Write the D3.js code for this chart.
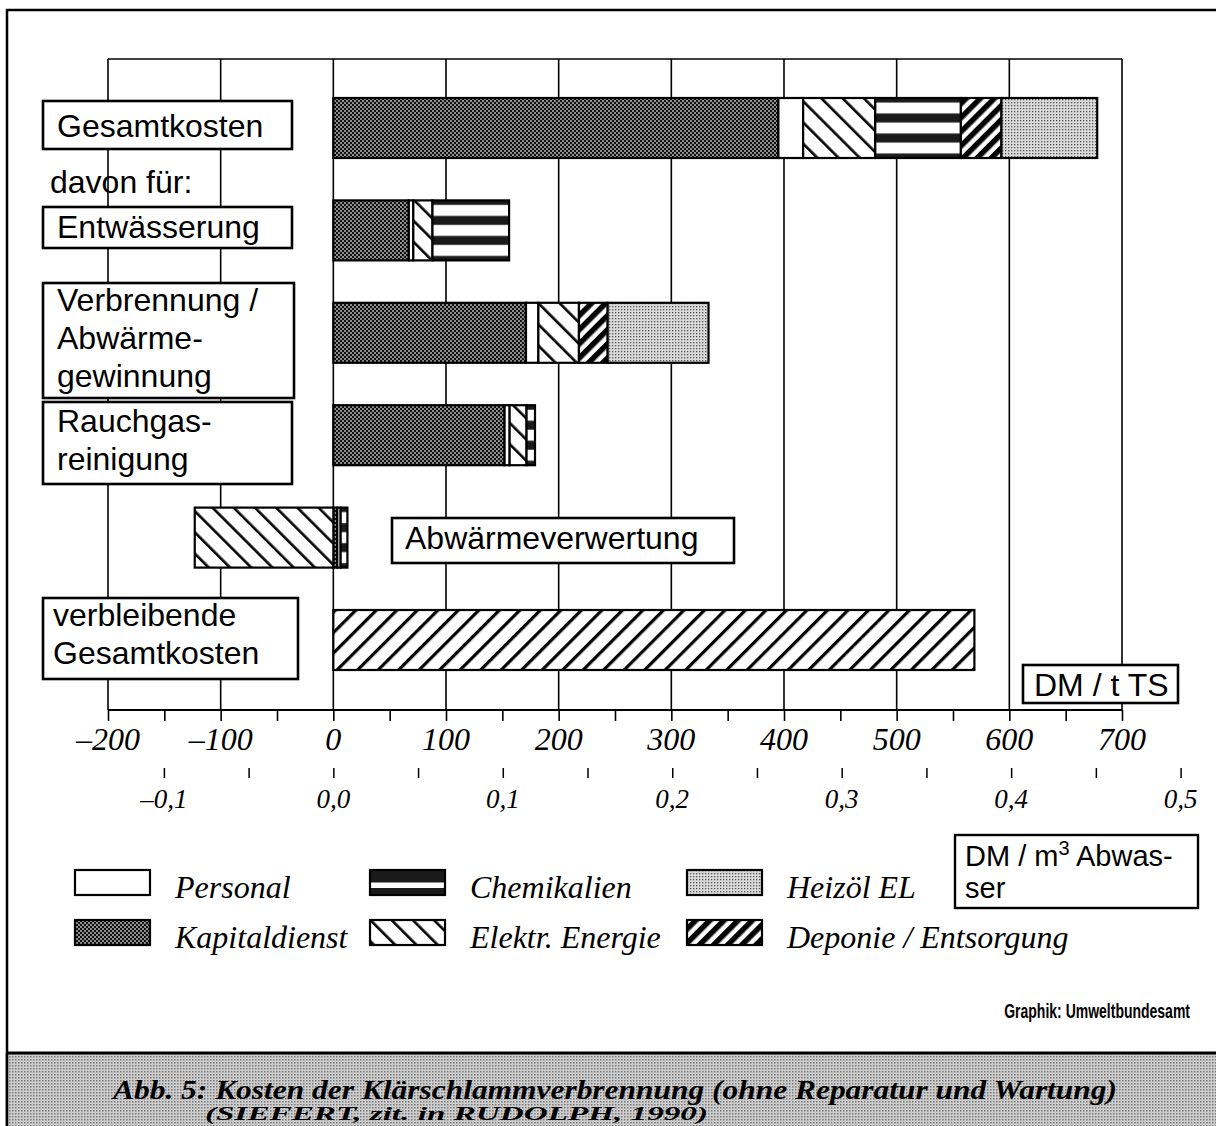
<!DOCTYPE html>
<html><head><meta charset="utf-8">
<script src="https://cdn.jsdelivr.net/npm/d3@7"></script>
<style>body{margin:0;background:#fff} svg{display:block}</style>
</head><body>
<svg id="c" width="1216" height="1126"></svg>
<script>
// ---------- data ----------
const categories = ["Gesamtkosten", "Entwässerung", "Verbrennung / Abwärmegewinnung", "Rauchgasreinigung", "Abwärmeverwertung", "verbleibende Gesamtkosten"];
const seriesKeys = ["Kapitaldienst", "Personal", "Elektr. Energie", "Chemikalien", "Deponie / Entsorgung", "Heizöl EL", "verbleibend"];
const kapitaldienst = [395, 67, 171, 152, 3.5, 0];
const personal      = [22, 4, 11, 4.5, 3, 0];
const elektrEnergie = [64, 17, 36, 15, -123, 0];
const chemikalien   = [76, 68, 0, 7.5, 6, 0];
const deponie       = [36, 0, 25.5, 0, 0, 0];
const heizoel       = [85, 0, 89.5, 0, 0, 0];
const verbleibend   = [0, 0, 0, 0, 0, 569];
const ticksDM = [-200, -100, 0, 100, 200, 300, 400, 500, 600, 700];
const tickLabelsDM = ["–200", "–100", "0", "100", "200", "300", "400", "500", "600", "700"];
const minorTicksDM = [-200, -150, -100, -50, 0, 50, 100, 150, 200, 250, 300, 350, 400, 450, 500, 550, 600, 650, 700];
const ticksM3 = [-0.1, 0, 0.1, 0.2, 0.3, 0.4, 0.5];
const tickLabelsM3 = ["–0,1", "0,0", "0,1", "0,2", "0,3", "0,4", "0,5"];
const minorTicksM3 = [-0.1, -0.05, 0, 0.05, 0.1, 0.15, 0.2, 0.25, 0.3, 0.35, 0.4, 0.45, 0.5];
const dmPerM3 = 1504; // DM/t TS corresponding to 1 DM/m3
const legendRow1 = ["Personal", "Chemikalien", "Heizöl EL"];
const legendRow2 = ["Kapitaldienst", "Elektr. Energie", "Deponie / Entsorgung"];

const columns = [kapitaldienst, personal, elektrEnergie, chemikalien, deponie, heizoel, verbleibend];
const rows = categories.map((c, i) => {
  const r = {cat: c};
  seriesKeys.forEach((k, j) => r[k] = columns[j][i]);
  return r;
});

// ---------- layout ----------
const svg = d3.select("#c");
const W = 1216, H = 1126;
const plotTop = 59, axisY = 710;
const x = d3.scaleLinear().domain([-200, 700]).range([108, 1122]);
const x2 = d3.scaleLinear().domain([-0.1, 0.5]).range([x(-0.1 * dmPerM3), x(0.5 * dmPerM3)]);
const y = d3.scaleBand().domain(categories).range([76.8, 691.2]).paddingInner(0.414).paddingOuter(0.207);

const SANS = "'Liberation Sans', Arial, Helvetica, sans-serif";
const SERIF = "'Liberation Serif', 'Times New Roman', Times, serif";

// ---------- patterns ----------
const defs = svg.append("defs");
function pat(id, w, h, attrs) {
  const p = defs.append("pattern").attr("id", id).attr("patternUnits", "userSpaceOnUse").attr("width", w).attr("height", h);
  if (attrs) Object.entries(attrs).forEach(([k, v]) => p.attr(k, v));
  return p;
}
let p = pat("pKap", 4, 4);
p.append("rect").attr("width", 4).attr("height", 4).attr("fill", "#8e8e8e");
p.append("rect").attr("width", 2).attr("height", 2).attr("fill", "#111");
p.append("rect").attr("x", 2).attr("y", 2).attr("width", 2).attr("height", 2).attr("fill", "#111");
p = pat("pHeiz", 3, 3);
p.append("rect").attr("width", 3).attr("height", 3).attr("fill", "#dadada");
p.append("rect").attr("width", 1.3).attr("height", 1.3).attr("fill", "#555");
p = pat("pElek", 15, 15, {patternTransform: "rotate(-45)"});
p.append("rect").attr("width", 15).attr("height", 15).attr("fill", "#fff");
p.append("rect").attr("x", 0).attr("width", 2.6).attr("height", 15).attr("fill", "#000");
p = pat("pDep", 10, 10, {patternTransform: "rotate(45)"});
p.append("rect").attr("width", 10).attr("height", 10).attr("fill", "#fff");
p.append("rect").attr("width", 5.5).attr("height", 10).attr("fill", "#000");
p = pat("pRest", 14.5, 14.5, {patternTransform: "rotate(45)"});
p.append("rect").attr("width", 14.5).attr("height", 14.5).attr("fill", "#fff");
p.append("rect").attr("width", 3.2).attr("height", 14.5).attr("fill", "#000");
p = defs.append("pattern").attr("id", "pChem").attr("patternUnits", "objectBoundingBox")
  .attr("patternContentUnits", "objectBoundingBox").attr("width", 1).attr("height", 1 / 3);
p.append("rect").attr("width", 1).attr("height", 1 / 3).attr("fill", "#fff");
p.append("rect").attr("width", 1).attr("height", 4.5 / 60).attr("fill", "#1a1a1a");
p.append("rect").attr("y", 15.5 / 60).attr("width", 1).attr("height", 4.5 / 60).attr("fill", "#1a1a1a");
p = defs.append("pattern").attr("id", "pChemLeg").attr("patternUnits", "objectBoundingBox")
  .attr("patternContentUnits", "objectBoundingBox").attr("width", 1).attr("height", 1);
p.append("rect").attr("width", 1).attr("height", 1).attr("fill", "#1a1a1a");
p.append("rect").attr("y", 0.5).attr("width", 1).attr("height", 0.22).attr("fill", "#fff");
p = pat("pCap", 3, 3);
p.append("rect").attr("width", 3).attr("height", 3).attr("fill", "#cdcdcd");
p.append("rect").attr("width", 1.5).attr("height", 1.5).attr("fill", "#7a7a7a");

const fills = {
  "Kapitaldienst": "url(#pKap)", "Personal": "#fff", "Elektr. Energie": "url(#pElek)",
  "Chemikalien": "url(#pChem)", "Deponie / Entsorgung": "url(#pDep)", "Heizöl EL": "url(#pHeiz)",
  "verbleibend": "url(#pRest)"
};
const legendFills = Object.assign({}, fills, {"Chemikalien": "url(#pChemLeg)"});

// ---------- frame ----------
svg.append("path").attr("d", `M7,${H} V10 H${W}`).attr("fill", "none").attr("stroke", "#000").attr("stroke-width", 2.5);

// ---------- grid ----------
const g = svg.append("g");
g.selectAll("line.grid").data(ticksDM).join("line").attr("class", "grid")
  .attr("x1", d => x(d)).attr("x2", d => x(d)).attr("y1", plotTop).attr("y2", axisY)
  .attr("stroke", "#000").attr("stroke-width", 1.6);
g.append("line").attr("x1", x(-200)).attr("x2", x(700)).attr("y1", plotTop).attr("y2", plotTop)
  .attr("stroke", "#000").attr("stroke-width", 1.4);

// ---------- axes ----------
const ax = svg.append("g").attr("transform", `translate(0,${axisY})`)
  .call(d3.axisBottom(x).tickValues(minorTicksDM).tickSize(11).tickFormat(""));
ax.select(".domain").attr("stroke-width", 2.2).attr("d", `M${x(-200)},0H${x(700)}`);
ax.selectAll(".tick line").attr("stroke-width", 1.6);
svg.append("g").selectAll("text").data(ticksDM).join("text")
  .attr("x", d => x(d)).attr("y", 750).attr("text-anchor", "middle")
  .attr("font-family", SERIF).attr("font-style", "italic").attr("font-size", 32)
  .text((d, i) => tickLabelsDM[i]);

const ax2 = svg.append("g").attr("transform", "translate(0,768)")
  .call(d3.axisBottom(x2).tickValues(minorTicksM3).tickSize(10).tickFormat(""));
ax2.select(".domain").remove();
ax2.selectAll(".tick line").attr("stroke-width", 1.5);
svg.append("g").selectAll("text").data(ticksM3).join("text")
  .attr("x", d => x2(d)).attr("y", 808).attr("text-anchor", "middle")
  .attr("font-family", SERIF).attr("font-style", "italic").attr("font-size", 27)
  .text((d, i) => tickLabelsM3[i]);

// ---------- bars ----------
const stack = d3.stack().keys(seriesKeys).offset(d3.stackOffsetDiverging)(rows);
const bars = svg.append("g");
stack.forEach(s => {
  bars.selectAll(null).data(s.filter(d => d[1] !== d[0])).join("rect")
    .attr("x", d => x(Math.min(d[0], d[1]))).attr("width", d => Math.abs(x(d[1]) - x(d[0])))
    .attr("y", d => y(d.data.cat)).attr("height", y.bandwidth())
    .attr("fill", fills[s.key]).attr("stroke", "#000").attr("stroke-width", 2.2);
});

// ---------- label boxes ----------
const labelBoxes = [
  {x: 43, y: 101, w: 249, h: 48, lines: ["Gesamtkosten"], tx: 57, ty: [137]},
  {x: 43, y: 207, w: 249, h: 41, lines: ["Entwässerung"], tx: 57, ty: [238]},
  {x: 43, y: 283, w: 251, h: 115, lines: ["Verbrennung /", "Abwärme-", "gewinnung"], tx: 57, ty: [311, 349, 387]},
  {x: 43, y: 402, w: 249, h: 82, lines: ["Rauchgas-", "reinigung"], tx: 57, ty: [432, 470]},
  {x: 392, y: 518, w: 342, h: 45, lines: ["Abwärmeverwertung"], tx: 405, ty: [549]},
  {x: 43, y: 598, w: 255, h: 81, lines: ["verbleibende", "Gesamtkosten"], tx: 53, ty: [626, 664]},
  {x: 1023, y: 665, w: 155, h: 38, lines: ["DM / t TS"], tx: 1034, ty: [696]},
];
const lb = svg.append("g");
labelBoxes.forEach(b => {
  lb.append("rect").attr("x", b.x).attr("y", b.y).attr("width", b.w).attr("height", b.h)
    .attr("fill", "#fff").attr("stroke", "#000").attr("stroke-width", 2.6);
  b.lines.forEach((t, i) => lb.append("text").attr("x", b.tx).attr("y", b.ty[i])
    .attr("font-family", SANS).attr("font-size", 32).text(t));
});
lb.append("text").attr("x", 50).attr("y", 193).attr("font-family", SANS).attr("font-size", 32).text("davon für:");

lb.append("rect").attr("x", 955).attr("y", 835).attr("width", 243).attr("height", 73)
  .attr("fill", "#fff").attr("stroke", "#000").attr("stroke-width", 2.4);
const t1 = lb.append("text").attr("x", 965).attr("y", 866).attr("font-family", SANS).attr("font-size", 29);
t1.append("tspan").text("DM / m");
t1.append("tspan").attr("dy", -11).attr("font-size", 20).text("3");
t1.append("tspan").attr("dy", 11).text(" Abwas-");
lb.append("text").attr("x", 965).attr("y", 898).attr("font-family", SANS).attr("font-size", 29).text("ser");

// ---------- legend ----------
const colX = [75, 370, 687];
const leg = svg.append("g");
[[legendRow1, 870], [legendRow2, 920]].forEach(([items, ry]) => {
  items.forEach((k, i) => {
    leg.append("rect").attr("x", colX[i]).attr("y", ry).attr("width", 75).attr("height", 25)
      .attr("fill", legendFills[k]).attr("stroke", "#000").attr("stroke-width", 2.2);
    leg.append("text").attr("x", colX[i] + 100).attr("y", ry + 28)
      .attr("font-family", SERIF).attr("font-style", "italic").attr("font-size", 32).text(k);
  });
});

// ---------- credits & caption ----------
svg.append("text").attr("transform", "translate(1190,1018) scale(0.7,1)").attr("text-anchor", "end")
  .attr("font-family", SANS).attr("font-weight", "bold").attr("font-size", 20)
  .text("Graphik: Umweltbundesamt");

svg.append("rect").attr("x", 7).attr("y", 1053).attr("width", W).attr("height", H - 1053).attr("fill", "url(#pCap)");
svg.append("line").attr("x1", 7).attr("x2", W).attr("y1", 1053).attr("y2", 1053).attr("stroke", "#000").attr("stroke-width", 3.2);
svg.append("line").attr("x1", 7).attr("x2", 7).attr("y1", 1053).attr("y2", H).attr("stroke", "#000").attr("stroke-width", 2.5);
svg.append("text").attr("x", 113).attr("y", 1099)
  .attr("font-family", SERIF).attr("font-style", "italic").attr("font-weight", "bold").attr("font-size", 28)
  .attr("textLength", 1004).attr("lengthAdjust", "spacingAndGlyphs")
  .text("Abb. 5:  Kosten der Klärschlammverbrennung (ohne Reparatur und Wartung)");
svg.append("text").attr("x", 205).attr("y", 1120)
  .attr("font-family", SERIF).attr("font-style", "italic").attr("font-weight", "bold").attr("font-size", 18)
  .attr("textLength", 503).attr("lengthAdjust", "spacingAndGlyphs")
  .text("(SIEFERT, zit. in RUDOLPH, 1990)");
</script>
</body></html>
